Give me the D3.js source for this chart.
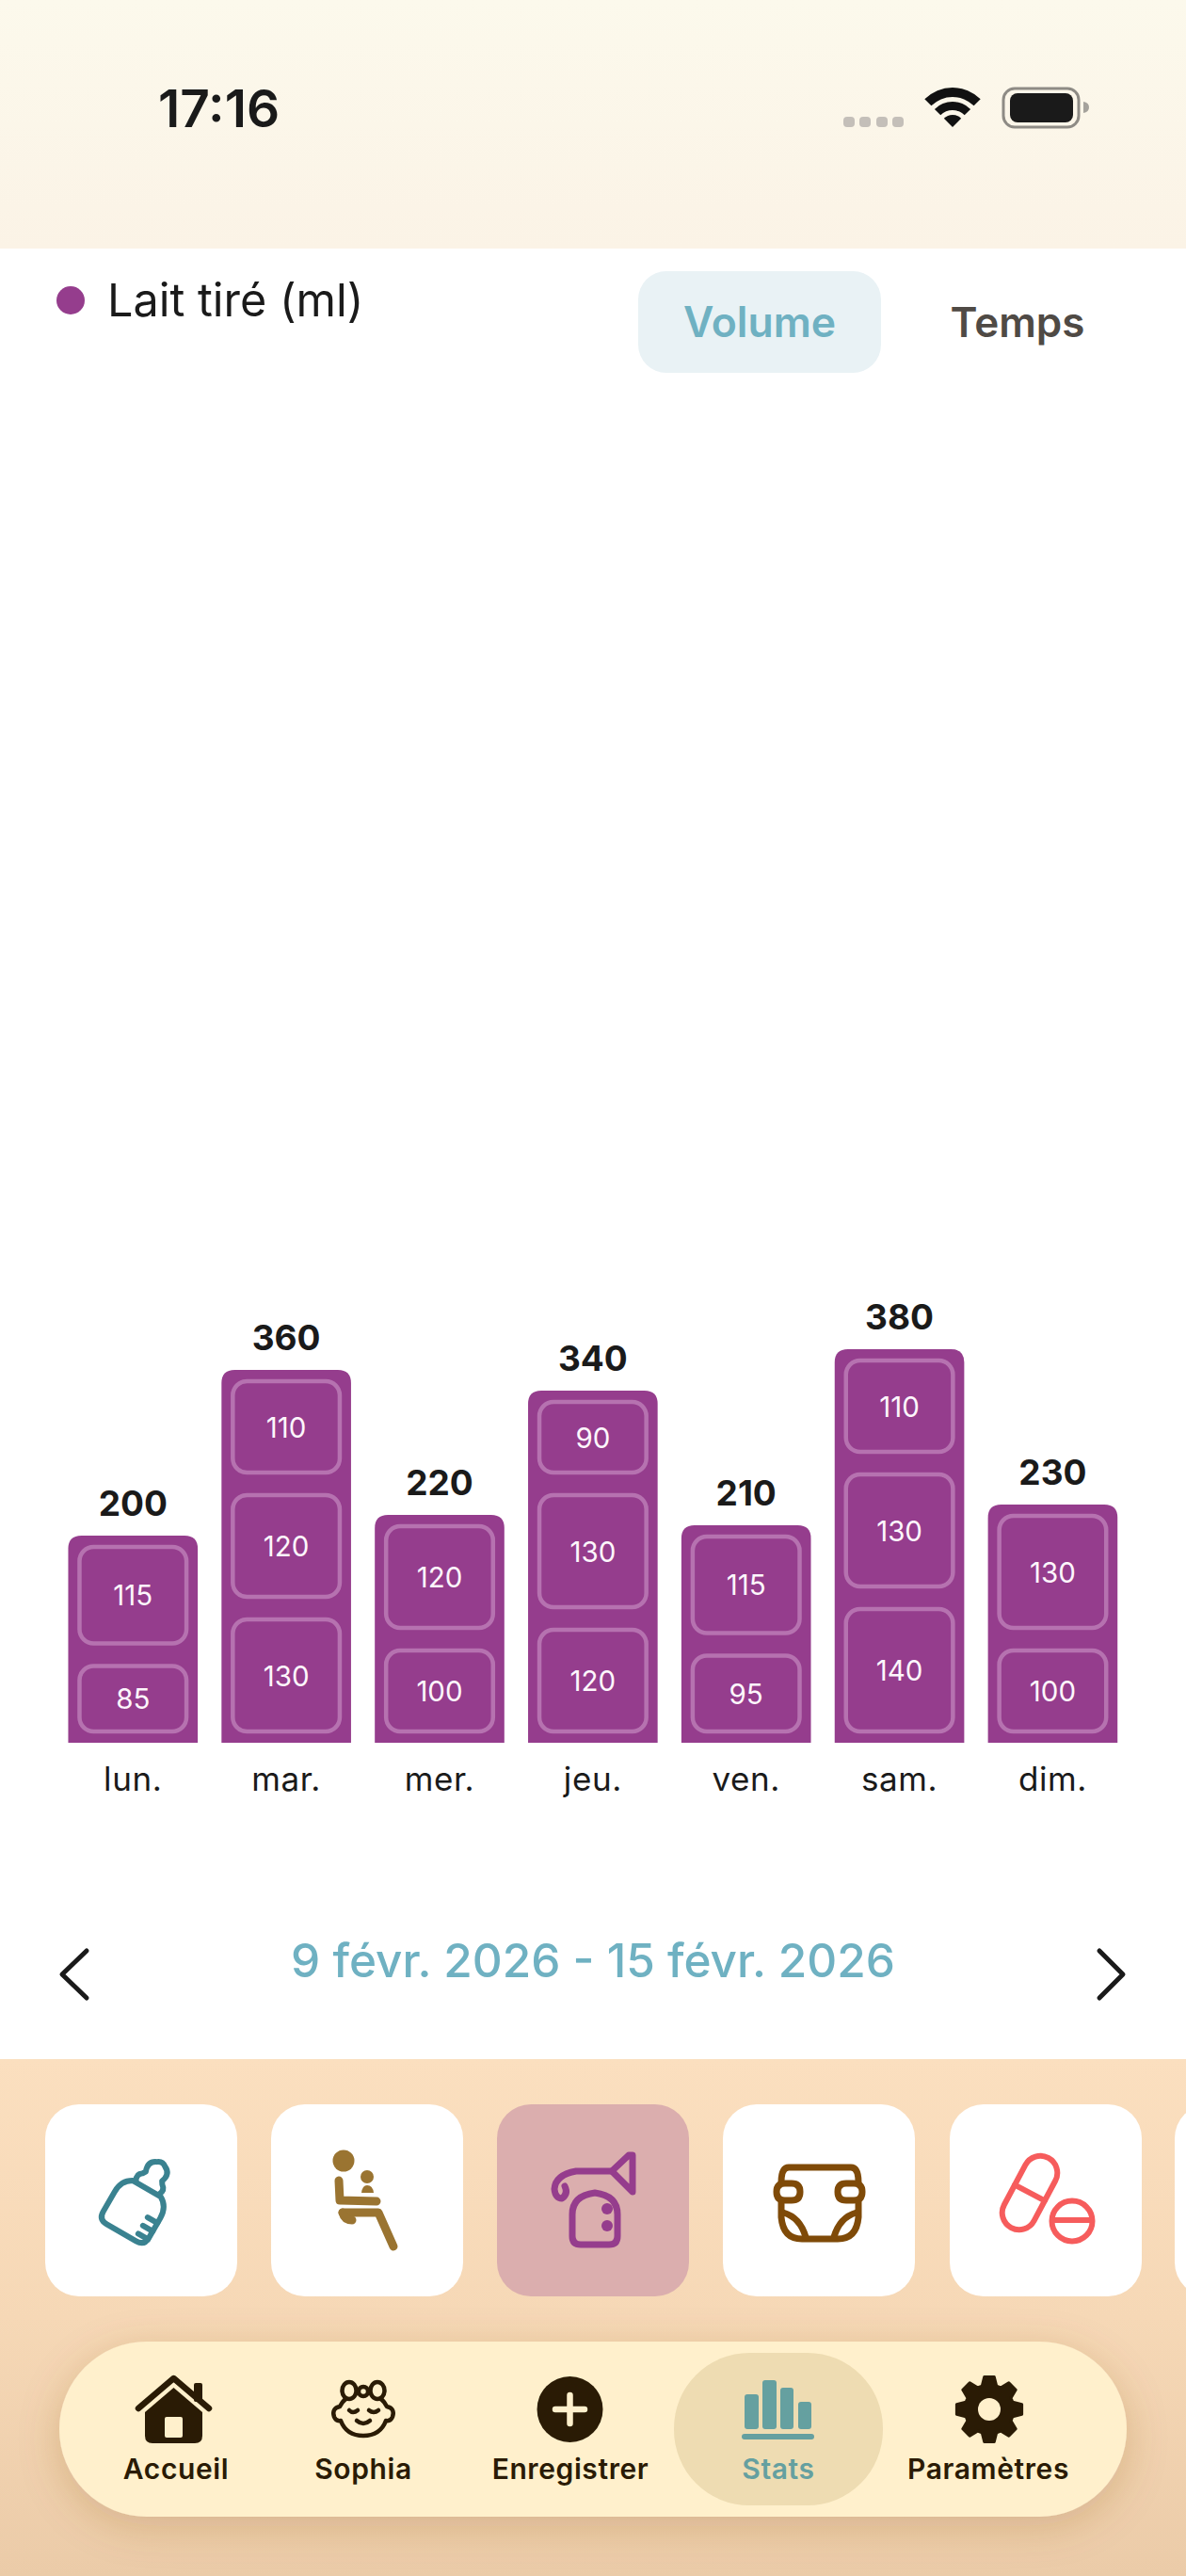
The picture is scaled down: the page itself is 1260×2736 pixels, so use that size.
<!DOCTYPE html>
<html lang="fr">
<head>
<meta charset="utf-8">
<title>Lait tiré</title>
<script src="https://cdn.jsdelivr.net/npm/d3@7"></script>
<style>
    html, body { margin: 0; padding: 0; background: #fff; }
    svg { display: block; }
    text { font-family: Inter, "Noto Sans", sans-serif; }
</style>
</head>
<body>
<svg id="screen" width="1260" height="2736" viewBox="0 0 1260 2736"></svg>
<script>
// chart values
const days = ["lun.", "mar.", "mer.", "jeu.", "ven.", "sam.", "dim."];
const session1 = [85, 130, 100, 120, 95, 140, 100];
const session2 = [115, 120, 120, 130, 115, 130, 130];
const session3 = [0, 110, 0, 90, 0, 110, 0];

// screen texts
const legendLabel = "Lait tiré (ml)";
const dateRange = "9 févr. 2026 - 15 févr. 2026";
const navLabels = ["Accueil", "Sophia", "Enregistrer", "Stats", "Paramètres"];
const navCenters = [187, 386, 606, 827, 1050];

const PURPLE = "#953d8d";
const TEAL = "#6fb1c2";
const DARK = "#1a1a1a";
const NAV_DARK = "#2a1b05";
const NAV_BG = "#fff0cc";
const STATS = "#65a0a0";

const svg = d3.select("#screen");
const defs = svg.append("defs");

// gradients for the two tinted areas
function addGradient(id, stops)
{
    let grad = defs.append("linearGradient").attr("id", id)
        .attr("x1", 0).attr("y1", 0).attr("x2", 0).attr("y2", 1);
    stops.forEach(([offset, color]) => {
        grad.append("stop").attr("offset", offset).attr("stop-color", color);
    });
}
addGradient("statusBg", [[0, "#fcf9ec"], [1, "#fbf3e6"]]);
addGradient("panelBg", [[0, "#fbdfbf"], [0.5, "#f6d8b6"], [1, "#ebcba8"]]);

let shadow = defs.append("filter").attr("id", "navShadow")
    .attr("x", "-10%").attr("y", "-30%").attr("width", "120%").attr("height", "170%");
shadow.append("feDropShadow").attr("dx", 0).attr("dy", 10)
    .attr("stdDeviation", 22).attr("flood-color", "#8a5a20").attr("flood-opacity", 0.24);

// ---- status bar ----
svg.append("rect").attr("width", 1260).attr("height", 264).attr("fill", "url(#statusBg)");
svg.append("text").attr("x", 168).attr("y", 135)
    .attr("font-size", 55).attr("font-weight", 600).attr("fill", DARK).text("17:16");

[896, 913, 931, 948].forEach((x) => {
    svg.append("rect").attr("x", x).attr("y", 124).attr("width", 12).attr("height", 11)
        .attr("rx", 4).attr("fill", "#c4bfb9");
});

// wifi is three wedges around the same point
const wifi = svg.append("g").attr("transform", "translate(1012,135)").attr("fill", "#111");
[[0, 13], [18, 27], [32, 42]].forEach(([inner, outer]) => {
    wifi.append("path").attr("d", d3.arc()({
        innerRadius: inner, outerRadius: outer,
        startAngle: -Math.PI / 4, endAngle: Math.PI / 4
    }));
});

svg.append("rect").attr("x", 1066).attr("y", 94).attr("width", 80).attr("height", 41).attr("rx", 12)
    .attr("fill", "none").attr("stroke", "#8e8b85").attr("stroke-width", 3);
svg.append("rect").attr("x", 1073).attr("y", 99).attr("width", 67).attr("height", 31).attr("rx", 8)
    .attr("fill", "#1a1a1a");
svg.append("path").attr("d", "M1151,108 Q1157,109 1157,114 Q1157,119 1151,120 Z").attr("fill", "#a5a29c");

// ---- legend and toggle ----
svg.append("circle").attr("cx", 75).attr("cy", 319).attr("r", 15).attr("fill", PURPLE);
svg.append("text").attr("x", 114).attr("y", 336)
    .attr("font-size", 48.5).attr("fill", DARK).text(legendLabel);

svg.append("rect").attr("x", 678).attr("y", 288).attr("width", 258).attr("height", 108).attr("rx", 30)
    .attr("fill", "#e9f2f5");
svg.append("text").attr("x", 807).attr("y", 358).attr("text-anchor", "middle")
    .attr("font-size", 44.5).attr("font-weight", 600).attr("fill", TEAL).text("Volume");
svg.append("text").attr("x", 1081).attr("y", 358).attr("text-anchor", "middle")
    .attr("font-size", 44).attr("font-weight", 600).attr("fill", "#4f4a45").text("Temps");

// ---- chart ----
const chartTable = days.map((day, i) => ({
    day: day, session1: session1[i], session2: session2[i], session3: session3[i]
}));
const stacked = d3.stack().keys(["session1", "session2", "session3"])(chartTable);
const totals = days.map((d, i) => session1[i] + session2[i] + session3[i]);

const x = d3.scaleBand().domain(days).range([59.85, 1199.85]).paddingInner(0.155).paddingOuter(0.0775);
const y = d3.scaleLinear().domain([0, 1000]).range([1851, 751]);

const chart = svg.append("g");

// full column with rounded top corners
chart.selectAll("path.column").data(days).join("path")
    .attr("class", "column")
    .attr("fill", PURPLE)
    .attr("d", (d, i) => {
        let x0 = x(d), x1 = x(d) + x.bandwidth(), top = y(totals[i]), r = 14;
        let p = d3.path();
        p.moveTo(x0, y(0));
        p.lineTo(x0, top + r);
        p.quadraticCurveTo(x0, top, x0 + r, top);
        p.lineTo(x1 - r, top);
        p.quadraticCurveTo(x1, top, x1, top + r);
        p.lineTo(x1, y(0));
        p.closePath();
        return p.toString();
    });

// one framed cell per session
const cells = stacked.flatMap((layer) => layer
    .map((seg, i) => ({ day: days[i], low: seg[0], high: seg[1], value: seg[1] - seg[0] }))
    .filter((c) => c.value > 0));

const INSET = 12;
chart.selectAll("rect.cell").data(cells).join("rect")
    .attr("class", "cell")
    .attr("x", (c) => x(c.day) + INSET)
    .attr("width", x.bandwidth() - 2 * INSET)
    .attr("y", (c) => y(c.high) + INSET)
    .attr("height", (c) => y(c.low) - y(c.high) - 2 * INSET)
    .attr("rx", 15)
    .attr("fill", "none")
    .attr("stroke", "#b672b0")
    .attr("stroke-width", 4.5);

chart.selectAll("text.cellValue").data(cells).join("text")
    .attr("class", "cellValue")
    .attr("x", (c) => x(c.day) + x.bandwidth() / 2)
    .attr("y", (c) => (y(c.low) + y(c.high)) / 2 + 11)
    .attr("text-anchor", "middle")
    .attr("font-size", 29.5)
    .attr("fill", "#fdf6fc")
    .text((c) => c.value);

chart.selectAll("text.total").data(days).join("text")
    .attr("class", "total")
    .attr("x", (d) => x(d) + x.bandwidth() / 2)
    .attr("y", (d, i) => y(totals[i]) - 21)
    .attr("text-anchor", "middle")
    .attr("font-size", 37)
    .attr("font-weight", 700)
    .attr("fill", DARK)
    .text((d, i) => totals[i]);

// day labels come from the band axis
const axis = svg.append("g").attr("transform", `translate(0,${y(0)})`)
    .call(d3.axisBottom(x).tickSize(0).tickPadding(26));
axis.select(".domain").remove();
axis.selectAll("text")
    .attr("font-family", "Inter, sans-serif")
    .attr("font-size", 35)
    .attr("letter-spacing", 0.6)
    .attr("fill", DARK);

// ---- week picker ----
svg.append("text").attr("x", 630).attr("y", 2100).attr("text-anchor", "middle")
    .attr("font-size", 49.5).attr("font-weight", 500).attr("fill", TEAL).text(dateRange);

const chevrons = svg.append("g").attr("fill", "none").attr("stroke", DARK)
    .attr("stroke-width", 5).attr("stroke-linecap", "round").attr("stroke-linejoin", "round");
chevrons.append("path").attr("d", "M92,2072 L66,2097 L92,2122");
chevrons.append("path").attr("d", "M1168,2072 L1193,2097 L1168,2122");

// ---- bottom panel ----
svg.append("rect").attr("y", 2187).attr("width", 1260).attr("height", 549).attr("fill", "url(#panelBg)");

[48, 288, 528, 768, 1009, 1248].forEach((cx, i) => {
    svg.append("rect").attr("x", cx).attr("y", 2235).attr("width", 204).attr("height", 204).attr("rx", 36)
        .attr("fill", i == 2 ? "#dbaeae" : "#fff");
});

// helper for the stroked line icons
function strokeIcon(color, width, paths, transform)
{
    let g = svg.append("g").attr("fill", "none").attr("stroke", color).attr("stroke-width", width)
        .attr("stroke-linecap", "round").attr("stroke-linejoin", "round");
    if (transform) g.attr("transform", transform);
    paths.forEach((d) => g.append("path").attr("d", d));
    return g;
}

// bottle
strokeIcon("#3a8290", 6, [
    "M-17,-12 L17,-12 Q28,-6 28,8 L28,32 Q28,42 18,42 L-18,42 Q-28,42 -28,32 L-28,8 Q-28,-6 -17,-12 Z",
    "M-14,-13 Q-18,-20 -12,-24 L-10,-27 Q-14,-38 -5,-42 Q0,-46 5,-42 Q14,-38 10,-27 L12,-24 Q18,-20 14,-13",
    "M28,14 L16,14 M28,24 L16,24 M28,34 L16,34"
], "translate(150,2335) rotate(30)");

// seated person
svg.append("circle").attr("cx", 365).attr("cy", 2295).attr("r", 11.5).attr("fill", "#9a7431");
svg.append("circle").attr("cx", 390).attr("cy", 2312).attr("r", 7).attr("fill", "#9a7431");
svg.append("path").attr("d", "M384,2329 Q385,2321 390,2321 Q396,2321 397,2329 Z").attr("fill", "#9a7431");
strokeIcon("#9a7431", 9, [
    "M360,2316 L361,2337 L400,2338",
    "M364,2350 L402,2350 L418,2386",
    "M364,2350 Q366,2358 374,2358"
]);

// breast pump
strokeIcon(PURPLE, 7, [
    "M608,2352 Q608,2332 632,2329 Q656,2332 656,2352 L656,2375 Q656,2384 647,2384 L617,2384 Q608,2384 608,2375 Z",
    "M650,2306 L668,2289 L672,2289 L672,2328 Z",
    "M650,2306 L612,2306 Q590,2310 589,2325 Q590,2335 597,2335 Q604,2330 600,2322"
]);
svg.append("circle").attr("cx", 645).attr("cy", 2346).attr("r", 6).attr("fill", PURPLE);
svg.append("circle").attr("cx", 645).attr("cy", 2364).attr("r", 6).attr("fill", PURPLE);

// diaper
strokeIcon("#7f4a08", 7, [
    "M830,2318 Q830,2302 838,2302 L904,2302 Q912,2302 912,2318",
    "M834,2319 L841,2319 Q850,2319 850,2328 Q850,2337 841,2337 L834,2337 Q825,2337 825,2328 Q825,2319 834,2319 Z",
    "M899,2319 L907,2319 Q916,2319 916,2328 Q916,2337 907,2337 L899,2337 Q890,2337 890,2328 Q890,2319 899,2319 Z",
    "M830,2337 L830,2355 Q832,2378 852,2378 L890,2378 Q910,2378 912,2355 L912,2337",
    "M832,2350 Q850,2355 856,2376 M910,2350 Q892,2355 886,2376"
]);

// pills
strokeIcon("#f65c5c", 6, [
    "M-18,-24 A18,18 0 0 1 18,-24 L18,24 A18,18 0 0 1 -18,24 Z",
    "M-18,0 L18,0"
], "translate(1094,2329) rotate(28)");
svg.append("circle").attr("cx", 1139).attr("cy", 2359).attr("r", 21.5)
    .attr("fill", "#fff").attr("stroke", "#f65c5c").attr("stroke-width", 6);
strokeIcon("#f65c5c", 6, ["M1118,2358 L1160,2358"]);

// ---- navigation bar ----
svg.append("rect").attr("x", 63).attr("y", 2487).attr("width", 1134).attr("height", 186).attr("rx", 93)
    .attr("fill", NAV_BG).attr("filter", "url(#navShadow)");
svg.append("rect").attr("x", 716).attr("y", 2499).attr("width", 222).attr("height", 162).attr("rx", 80)
    .attr("fill", "#eedcb2");

svg.selectAll("text.nav").data(navLabels).join("text")
    .attr("class", "nav")
    .attr("x", (d, i) => navCenters[i])
    .attr("y", 2633)
    .attr("text-anchor", "middle")
    .attr("font-size", 30)
    .attr("font-weight", 600)
    .attr("letter-spacing", 0.6)
    .attr("fill", (d) => d == "Stats" ? STATS : NAV_DARK)
    .text((d) => d);

// house
strokeIcon(NAV_DARK, 6.5, ["M147,2558 L184.5,2526 L222,2558"]);
svg.append("path").attr("fill", NAV_DARK)
    .attr("d", "M184.5,2536 L215,2562 L215,2587 Q215,2595 207,2595 L162,2595 Q154,2595 154,2587 L154,2562 Z");
svg.append("rect").attr("x", 206).attr("y", 2531).attr("width", 9).attr("height", 20).attr("rx", 2).attr("fill", NAV_DARK);
svg.append("rect").attr("x", 175).attr("y", 2567).attr("width", 19).attr("height", 22).attr("rx", 2).attr("fill", NAV_BG);

// baby face
strokeIcon(NAV_DARK, 4.5, [
    "M361,2556 Q352,2558 355,2567 Q357,2572 362,2571 Q368,2587 386,2587 Q404,2587 410,2571 Q415,2572 417,2567 Q420,2558 411,2556 Q406,2546 398,2546 M374,2546 Q366,2546 361,2556",
    "M371,2560 Q375,2564 380,2560 M392,2560 Q397,2564 402,2560",
    "M379,2571 Q386,2577 393,2571"
]);
const bow = svg.append("g").attr("fill", NAV_BG).attr("stroke", NAV_DARK).attr("stroke-width", 4.5);
bow.append("ellipse").attr("cx", 371).attr("cy", 2539).attr("rx", 7.5).attr("ry", 9);
bow.append("ellipse").attr("cx", 401).attr("cy", 2539).attr("rx", 7.5).attr("ry", 9);
bow.append("circle").attr("cx", 386).attr("cy", 2540).attr("r", 5);

// add button
svg.append("circle").attr("cx", 605.5).attr("cy", 2559).attr("r", 35).attr("fill", NAV_DARK);
strokeIcon(NAV_BG, 6.5, ["M590,2559 L621,2559 M605.5,2544 L605.5,2574"]);

// stats glyph
[[791, 15, 2543], [810, 15, 2528], [829, 14, 2536], [848, 14, 2551]].forEach(([bx, bw, by]) => {
    svg.append("rect").attr("x", bx).attr("y", by).attr("width", bw).attr("height", 2580 - by).attr("rx", 3).attr("fill", STATS);
});
svg.append("rect").attr("x", 788).attr("y", 2585).attr("width", 77).attr("height", 6).attr("rx", 3).attr("fill", STATS);

// gear, eight teeth around the centre
const gearPoints = [];
d3.range(8).forEach((i) => {
    let a = i * Math.PI / 4;
    gearPoints.push([a - 0.3, 26], [a - 0.15, 35], [a + 0.15, 35], [a + 0.3, 26]);
});
const gearLine = d3.lineRadial().angle((p) => p[0]).radius((p) => p[1]).curve(d3.curveLinearClosed);
svg.append("path").attr("transform", "translate(1051,2559)").attr("d", gearLine(gearPoints))
    .attr("fill", NAV_DARK).attr("stroke", NAV_DARK).attr("stroke-width", 3).attr("stroke-linejoin", "round");
svg.append("circle").attr("cx", 1051).attr("cy", 2559).attr("r", 12).attr("fill", NAV_BG);
</script>
</body>
</html>
